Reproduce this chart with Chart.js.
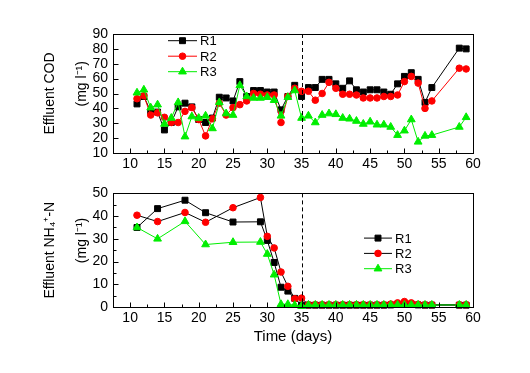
<!DOCTYPE html>
<html><head><meta charset="utf-8">
<script src="https://cdn.jsdelivr.net/npm/chart.js@4.4.1/dist/chart.umd.min.js"></script>
<style>
html,body{margin:0;padding:0;background:#fff;}
#wrap{position:relative;width:530px;height:373px;overflow:hidden;}
canvas{position:absolute;left:0;}
#c1{top:0;}
#c2{top:180px;}
</style></head><body>
<div id="wrap">
<canvas id="c1" width="530" height="180"></canvas>
<canvas id="c2" width="530" height="193"></canvas>
</div>
<script>
// ---------- data ----------
const SERIES = ['R1', 'R2', 'R3'];
const DAYS_COD = [11,12,13,14,15,16,17,18,19,20,21,22,23,24,25,26,27,28,29,30,31,32,33,34,35,
                  36,37,38,39,40,41,42,43,44,45,46,47,48,49,50,51,52,53,54,58,59];
const COD_R1 = [43,48,38,37.5,25.5,30.5,41,43.5,41,32.5,30.5,33.5,47.5,47,45,58,48,52,52,51,51,39,48,55.5,48,
                54,54,59.5,59.5,56.5,53.5,58.5,52.5,51,52.5,52.5,51,49.5,56.5,61.5,64,59.5,44,54,80.5,80];
const COD_R2 = [46.5,48.5,35.5,37,34,30.5,30.5,38,40.5,32.5,21.5,33,43.5,35.5,40.5,42.5,45,50,49.5,49,49,30.5,48,53.5,51.5,
                51.5,45.5,50,57.5,53.5,49.5,49.5,49,47,47,47,48,48,49,58,61.5,57,40,45,67,66.5];
const COD_R3 = [50.5,52.5,40.5,42.5,29.5,33.5,44,21,34.5,33.5,35,26.5,44,36.5,35.5,55.5,48,47,47,47.5,45.5,35,47.5,52,33.5,
                35,30.5,35.5,36.5,36,33.5,33,31.5,29.5,31,29,29,27.5,22,25,32.5,17.5,21.5,22,27.5,34];

const DAYS_NH4 = [11,14,18,21,25,29,30,31,32,33,34,35,
                  36,37,38,39,40,41,42,43,44,45,46,47,48,49,50,51,52,53,54,58,59];
const NH4_R1 = [35,43.3,47,41.5,37.4,37.5,29.3,19.6,8.7,7.0,3.8,0.8,
                0.8,0.8,0.8,0.8,0.8,0.8,0.8,0.8,0.8,0.8,0.8,0.8,0.9,1.2,1.5,1.2,0.9,0.8,0.8,0.8,0.8];
const NH4_R2 = [40.4,37.6,41.6,37.3,43.7,48.2,31.1,26,15.4,9.1,3.6,3.9,
                1.0,1.0,1.0,1.0,1.0,1.0,1.0,1.0,1.0,1.0,1.0,1.0,1.3,1.8,2.4,1.8,1.2,1.0,1.0,1.0,1.0];
const NH4_R3 = [35,30,37.7,27.5,28.5,28.6,23.3,14.2,1.2,1.2,0.8,0.4,
                0.9,0.9,0.9,0.9,0.9,0.9,0.9,0.9,0.9,0.9,0.9,0.9,0.9,0.9,0.9,0.9,0.9,0.9,0.9,0.9,0.9];

const X_TICKS = [10,15,20,25,30,35,40,45,50,55,60];
const COD_TICKS = [10,20,30,40,50,60,70,80,90];
const NH4_TICKS = [0,10,20,30,40,50];
const NH4_MINOR = [5,15,25,35,45];
const DASH_DAY = 35;

// ---------- style ----------
const FONT = "'Liberation Sans', Arial, Helvetica, sans-serif";
Chart.defaults.font.family = FONT;
Chart.defaults.color = '#000';
const BLACK = '#000000', RED = '#ff0000', GREEN = '#00ee00';
const UNIT = '     (mg l\u207B\u00B9)';

function ds(label, days, vals, color, lineColor, style, radius, order) {
  return {
    label, data: days.map((d, i) => ({x: d, y: vals[i]})),
    borderColor: lineColor, backgroundColor: color,
    pointBackgroundColor: color, pointBorderColor: color,
    pointStyle: style, pointRadius: radius, pointBorderWidth: 1,
    borderWidth: 1, tension: 0, order, clip: false
  };
}

const xMinor = X_TICKS.slice(0, -1).map((v, i) => (v + X_TICKS[i + 1]) / 2);

const framePlugin = {
  id: 'frame',
  afterDatasetsDraw(chart, args, o) {
    const {ctx, chartArea: a, scales: {x, y}} = chart;
    ctx.save();
    ctx.strokeStyle = '#000'; ctx.lineWidth = 1; ctx.setLineDash([]);
    ctx.beginPath();
    const b = Math.round(a.bottom) + 0.5, l = Math.round(a.left) + 0.5;
    X_TICKS.forEach(v => { const p = Math.round(x.getPixelForValue(v)) + 0.5; ctx.moveTo(p, b); ctx.lineTo(p, b - 5); });
    xMinor.forEach(v => { const p = Math.round(x.getPixelForValue(v)) + 0.5; ctx.moveTo(p, b); ctx.lineTo(p, b - 3); });
    o.yMajor.forEach(v => { const p = Math.round(y.getPixelForValue(v)) + 0.5; ctx.moveTo(l, p); ctx.lineTo(l + 5, p); });
    (o.yMinor || []).forEach(v => { const p = Math.round(y.getPixelForValue(v)) + 0.5; ctx.moveTo(l, p); ctx.lineTo(l + 3, p); });
    ctx.stroke();
    ctx.strokeRect(l, Math.round(a.top) + 0.5, Math.round(a.right - a.left), Math.round(a.bottom - a.top));
    const dx = Math.round(x.getPixelForValue(DASH_DAY)) + 0.5;
    ctx.setLineDash([4, 3]);
    ctx.beginPath(); ctx.moveTo(dx, a.top); ctx.lineTo(dx, a.bottom); ctx.stroke();
    ctx.restore();
  }
};

const legendPlugin = {
  id: 'inLegend',
  afterDatasetsDraw(chart, args, o) {
    const {ctx, chartArea: a} = chart;
    ctx.save();
    chart.data.datasets.forEach((d, i) => {
      const y = a.top + o.dy + i * o.gap;
      const x0 = a.left + o.dx;
      ctx.setLineDash([]);
      ctx.strokeStyle = d.borderColor; ctx.lineWidth = 1;
      ctx.beginPath(); ctx.moveTo(x0, y); ctx.lineTo(x0 + o.len, y); ctx.stroke();
      ctx.fillStyle = d.pointBackgroundColor; ctx.strokeStyle = d.pointBorderColor;
      Chart.helpers.drawPoint(ctx, {pointStyle: d.pointStyle, radius: d.pointRadius, borderWidth: 1, rotation: 0}, x0 + o.len / 2, y);
      ctx.fillStyle = '#000';
      ctx.font = o.size + 'px ' + FONT;
      ctx.textAlign = 'left'; ctx.textBaseline = 'middle';
      ctx.fillText(d.label, x0 + o.len + 3, y + 1);
    });
    ctx.restore();
  }
};

function baseX(height, showTitle) {
  return {
    type: 'linear', min: 7.5, max: 60,
    afterBuildTicks: s => { s.ticks = X_TICKS.map(v => ({value: v})); },
    ticks: {padding: 3, font: {size: 14}, maxRotation: 0, autoSkip: false},
    grid: {display: false, drawTicks: false}, border: {display: false},
    title: showTitle ? {display: true, text: 'Time (days)', font: {size: 15, lineHeight: 1.2}, padding: {top: 0, bottom: 27}} : {display: false},
    afterFit: s => { s.height = height; }
  };
}
function baseY(min, max, ticks, title) {
  return {
    type: 'linear', min, max,
    afterBuildTicks: s => { s.ticks = ticks.map(v => ({value: v})); },
    ticks: {padding: 5, font: {size: 14}, autoSkip: false},
    grid: {display: false, drawTicks: false}, border: {display: false},
    title: {display: true, text: title, font: {size: 14, lineHeight: '32px'}, padding: {top: 34, bottom: 0}},
    afterFit: s => { s.width = 113; }
  };
}

new Chart(document.getElementById('c1'), {
  type: 'line',
  data: {datasets: [
    ds(SERIES[0], DAYS_COD, COD_R1, BLACK, BLACK, 'rect', 4.2, 2),
    ds(SERIES[1], DAYS_COD, COD_R2, RED, RED, 'circle', 3.3, 1),
    ds(SERIES[2], DAYS_COD, COD_R3, GREEN, GREEN, 'triangle', 4.5, 0)
  ]},
  plugins: [framePlugin, legendPlugin],
  options: {
    responsive: false, animation: false, events: [],
    layout: {padding: {top: 34, right: 57, left: 0, bottom: 0}},
    scales: {x: baseX(27, false), y: baseY(10, 90, COD_TICKS, ['Effluent COD', UNIT])},
    plugins: {legend: {display: false}, tooltip: {enabled: false},
      frame: {yMajor: COD_TICKS},
      inLegend: {dx: 55, dy: 6.7, gap: 15.5, len: 29, size: 13}}
  }
});

new Chart(document.getElementById('c2'), {
  type: 'line',
  data: {datasets: [
    ds(SERIES[0], DAYS_NH4, NH4_R1, BLACK, BLACK, 'rect', 4.2, 2),
    ds(SERIES[1], DAYS_NH4, NH4_R2, RED, BLACK, 'circle', 3.3, 1),
    ds(SERIES[2], DAYS_NH4, NH4_R3, GREEN, GREEN, 'triangle', 4.5, 0)
  ]},
  plugins: [framePlugin, legendPlugin],
  options: {
    responsive: false, animation: false, events: [],
    layout: {padding: {top: 7, right: 57, left: 0, bottom: 0}},
    scales: {x: baseX(66, true), y: baseY(0, 50, NH4_TICKS, ['Effluent NH\u2084\u207A-N', UNIT])},
    plugins: {legend: {display: false}, tooltip: {enabled: false},
      frame: {yMajor: NH4_TICKS, yMinor: NH4_MINOR},
      inLegend: {dx: 251, dy: 44.7, gap: 15.3, len: 28, size: 13}}
  }
});
</script>
</body></html>
